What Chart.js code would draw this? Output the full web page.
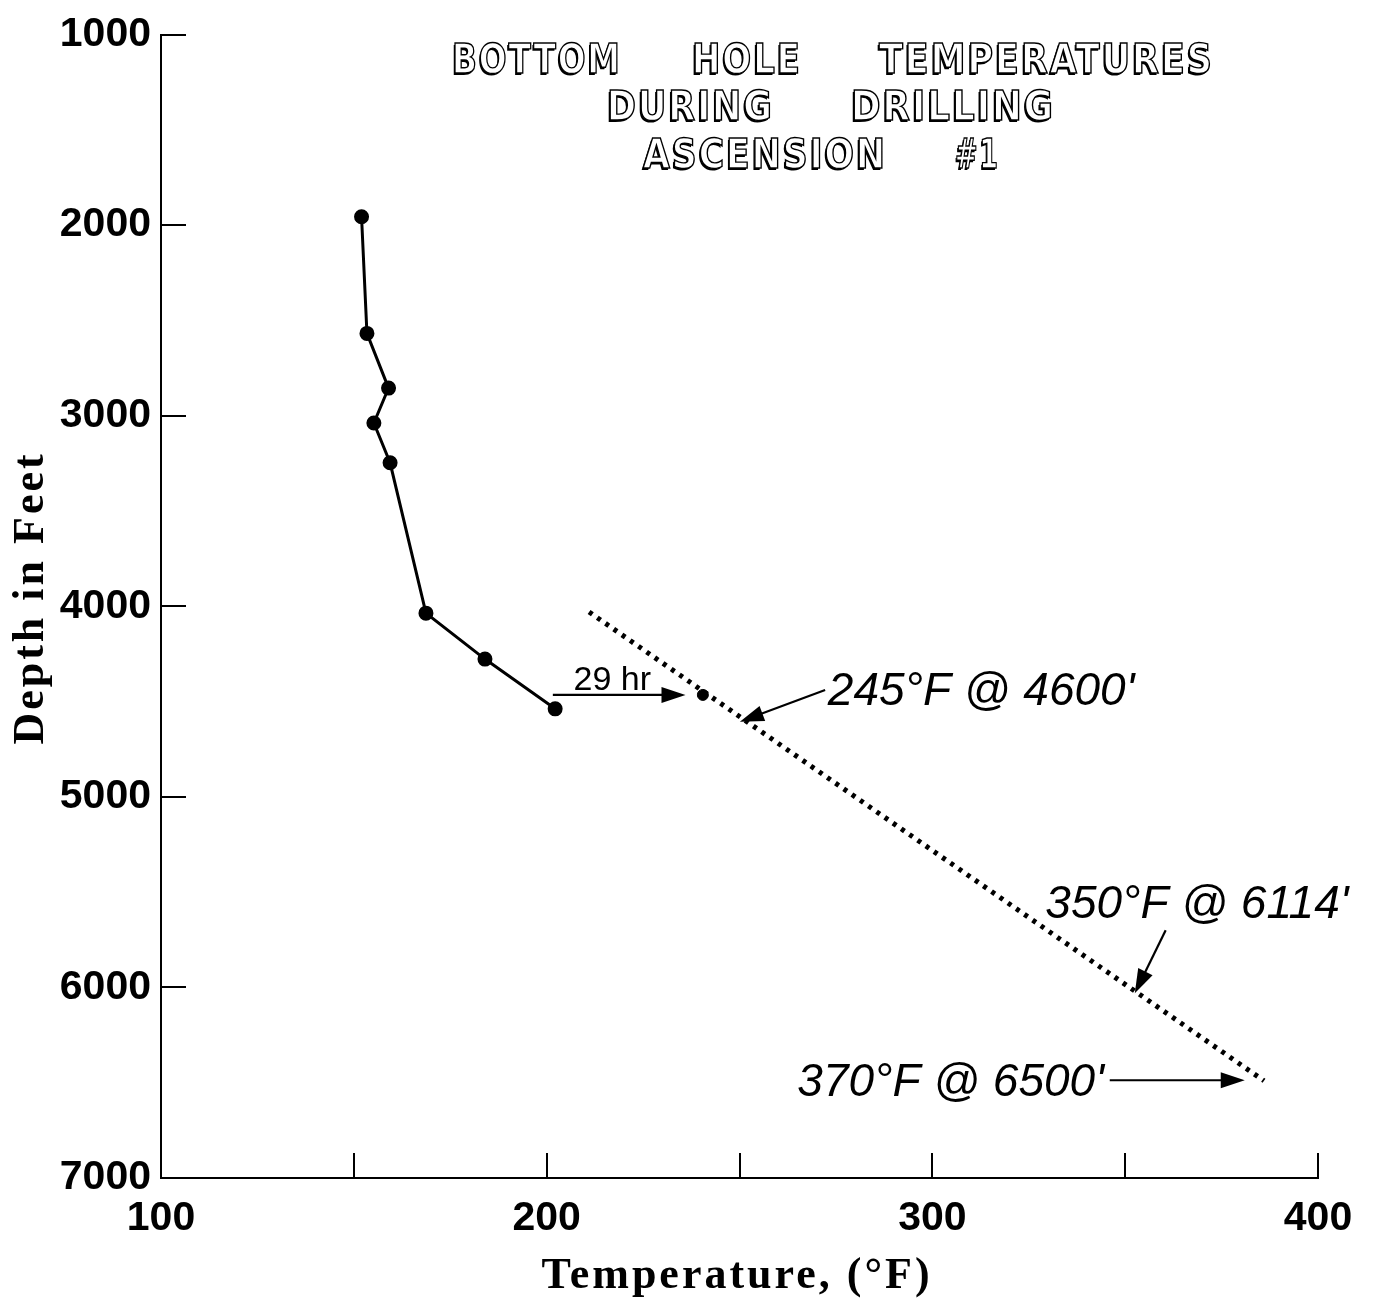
<!DOCTYPE html>
<html>
<head>
<meta charset="utf-8">
<script src="https://cdn.jsdelivr.net/npm/chart.js@4"></script>
<style>
  html, body { margin: 0; padding: 0; background: #fff; }
  canvas { display: block; }
</style>
</head>
<body>
<canvas id="bhtChart" width="1379" height="1306"></canvas>
<script>
// ===== DATA =====
const TEMP_TICKS = [100, 150, 200, 250, 300, 350, 400];
const DEPTH_TICKS = [1000, 2000, 3000, 4000, 5000, 6000, 7000];

// bottom hole temperatures while drilling
const bhtTemps = [152, 153.4, 159, 155.2, 159.4, 168.7, 184, 202.2];
const bhtDepths = [1956, 2568, 2855, 3038, 3247, 4036, 4277, 4538];

// reading after 29 hr
const shutInTemps = [240.5];
const shutInDepths = [4465];

// extrapolated gradient (dotted)
const gradTemps = [211, 386];
const gradDepths = [4030, 6490];

const TITLE_LINES = [
  ["BOTTOM", "HOLE", "TEMPERATURES"],
  ["DURING", "DRILLING"],
  ["ASCENSION", "#1"]
];

const ARROW_LABELS = ["29 hr", "245°F @ 4600'", "350°F @ 6114'", "370°F @ 6500'"];
// arrows in data units: [fromT, fromD, toT, toD]
const ARROWS = [
  [201.6, 4465, 236, 4465],
  [272.2, 4439, 250.1, 4606],
  [360.5, 5700, 352.5, 6030],
  [346, 6487, 381, 6487]
];

const toPoints = (xs, ys) => xs.map((v, i) => ({ x: v, y: ys[i] }));

/* ===== DRAWING HELPERS ===== */
function arrow(ctx, x1, y1, x2, y2) {
  const a = Math.atan2(y2 - y1, x2 - x1);
  const len = 24, half = 8;
  ctx.beginPath();
  ctx.moveTo(x1, y1);
  ctx.lineTo(x2 - Math.cos(a) * len * 0.8, y2 - Math.sin(a) * len * 0.8);
  ctx.stroke();
  ctx.beginPath();
  ctx.moveTo(x2, y2);
  ctx.lineTo(x2 - Math.cos(a) * len - Math.sin(a) * half, y2 - Math.sin(a) * len + Math.cos(a) * half);
  ctx.lineTo(x2 - Math.cos(a) * len + Math.sin(a) * half, y2 - Math.sin(a) * len - Math.cos(a) * half);
  ctx.closePath();
  ctx.fill();
}

function outlinedWord(ctx, word, left, right, cy) {
  ctx.save();
  ctx.font = 'bold 40px "Liberation Sans Narrow", "DejaVu Sans Condensed", "Liberation Sans", sans-serif';
  ctx.letterSpacing = "2px";
  ctx.textBaseline = "middle";
  ctx.textAlign = "left";
  const w = ctx.measureText(word).width - 2;
  ctx.translate(left, cy);
  ctx.scale((right - left) / w, 1);
  ctx.fillStyle = "#000";
  ctx.fillText(word, -1.5, 2);
  ctx.fillStyle = "#fff";
  ctx.fillText(word, 0, 0);
  ctx.lineWidth = 1.4;
  ctx.strokeStyle = "#000";
  ctx.strokeText(word, 0, 0);
  ctx.restore();
}

/* ===== ANNOTATION PLUGIN ===== */
const annotate = {
  id: "annotate",
  afterDraw(chart) {
    const { ctx, chartArea } = chart;
    const xs = chart.scales.x, ys = chart.scales.y;
    ctx.save();

    // inward tick marks
    ctx.strokeStyle = "#000";
    ctx.lineWidth = 2;
    TEMP_TICKS.slice(1).forEach(t => {
      const px = Math.round(xs.getPixelForValue(t));
      ctx.beginPath();
      ctx.moveTo(px, chartArea.bottom);
      ctx.lineTo(px, chartArea.bottom - 25);
      ctx.stroke();
    });
    DEPTH_TICKS.slice(0, -1).forEach(d => {
      const py = Math.round(ys.getPixelForValue(d));
      ctx.beginPath();
      ctx.moveTo(chartArea.left, py);
      ctx.lineTo(chartArea.left + 25, py);
      ctx.stroke();
    });

    // title
    const titleSpans = [
      [[452, 620], [692, 800], [879, 1212]],
      [[607, 772], [851, 1053]],
      [[643, 885], [955, 998]]
    ];
    const titleY = [63, 110, 158];
    TITLE_LINES.forEach((words, li) => {
      words.forEach((w, wi) => {
        const [l, r] = titleSpans[li][wi];
        outlinedWord(ctx, w, l, r, titleY[li]);
      });
    });

    // arrows
    ctx.fillStyle = "#000";
    ctx.lineWidth = 2.2;
    ARROWS.forEach(a => {
      arrow(ctx, xs.getPixelForValue(a[0]), ys.getPixelForValue(a[1]),
        xs.getPixelForValue(a[2]), ys.getPixelForValue(a[3]));
    });

    // arrow labels
    ctx.textBaseline = "middle";
    ctx.font = '34px "Liberation Sans", Arial, sans-serif';
    ctx.textAlign = "center";
    ctx.fillText(ARROW_LABELS[0], xs.getPixelForValue(217), ys.getPixelForValue(4465) - 14);

    ctx.font = 'italic 46px "Liberation Sans", Arial, sans-serif';
    ctx.textAlign = "left";
    ctx.fillText(ARROW_LABELS[1], xs.getPixelForValue(272.9), ys.getPixelForValue(4439) + 2);
    ctx.fillText(ARROW_LABELS[2], xs.getPixelForValue(329.3), ys.getPixelForValue(5570));
    ctx.textAlign = "right";
    ctx.fillText(ARROW_LABELS[3], xs.getPixelForValue(344.5), ys.getPixelForValue(6500));

    // axis titles
    ctx.font = 'bold 44px "Liberation Serif", "Times New Roman", serif';
    ctx.letterSpacing = "3px";
    ctx.textAlign = "center";
    ctx.fillText("Temperature, (°F)", 737, 1277);
    ctx.translate(32, 598);
    ctx.rotate(-Math.PI / 2);
    ctx.fillText("Depth in Feet", 0, 0);
    ctx.restore();
  }
};

/* ===== CHART ===== */
const tickFont = { family: '"Liberation Sans", Arial, sans-serif', size: 41, weight: "bold" };

new Chart(document.getElementById("bhtChart"), {
  type: "line",
  data: {
    datasets: [
      {
        data: toPoints(bhtTemps, bhtDepths),
        borderColor: "#000",
        backgroundColor: "#000",
        borderWidth: 3,
        pointRadius: 6,
        pointHoverRadius: 6,
        tension: 0
      },
      {
        data: toPoints(shutInTemps, shutInDepths),
        showLine: false,
        backgroundColor: "#000",
        borderColor: "#000",
        pointRadius: 5.5
      },
      {
        data: toPoints(gradTemps, gradDepths),
        borderColor: "#000",
        borderWidth: 5,
        borderDash: [4, 6],
        pointRadius: 0
      }
    ]
  },
  options: {
    responsive: false,
    animation: false,
    layout: { padding: { left: 0, right: 61, top: 30, bottom: 0 } },
    plugins: { legend: { display: false }, tooltip: { enabled: false } },
    scales: {
      x: {
        type: "linear",
        min: 100,
        max: 400,
        afterFit: s => { s.height = 128; },
        afterBuildTicks: s => { s.ticks = TEMP_TICKS.map(v => ({ value: v })); },
        ticks: {
          font: tickFont,
          color: "#000",
          padding: 16,
          maxRotation: 0,
          callback: v => (v % 100 === 0 ? String(v) : "")
        },
        grid: { display: true, drawOnChartArea: false, drawTicks: false },
        border: { display: true, color: "#000", width: 2 }
      },
      y: {
        type: "linear",
        reverse: true,
        min: 1000,
        max: 7000,
        afterFit: s => { s.width = 161; },
        afterBuildTicks: s => { s.ticks = DEPTH_TICKS.map(v => ({ value: v })); },
        ticks: {
          font: tickFont,
          color: "#000",
          padding: 10,
          callback: v => String(v)
        },
        grid: { display: true, drawOnChartArea: false, drawTicks: false },
        border: { display: true, color: "#000", width: 2 }
      }
    }
  },
  plugins: [annotate]
});
</script>
</body>
</html>
